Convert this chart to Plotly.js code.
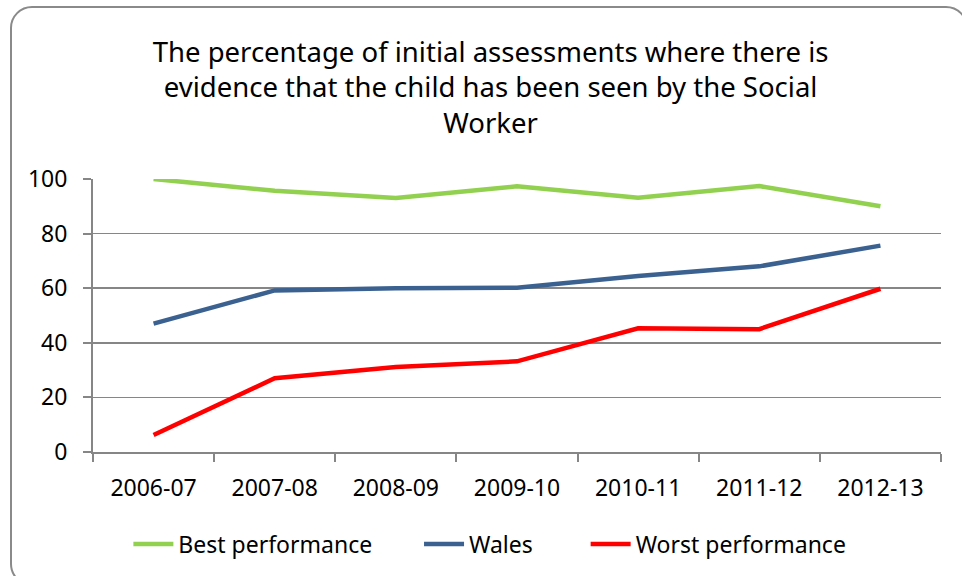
<!DOCTYPE html>
<html>
<head>
<meta charset="utf-8">
<script src="https://cdn.plot.ly/plotly-3.0.1.min.js"></script>
<style>
  html, body { margin: 0; padding: 0; background: #fff; }
  #wrap { position: relative; width: 962px; height: 576px; overflow: hidden; }
  #chart { position: absolute; left: 0; top: 0; width: 962px; height: 576px; }
  #frame { position: absolute; left: 10px; top: 6px; width: 958px; height: 580px;
           border: 2px solid #8a8a8a; border-radius: 22px; pointer-events: none; box-sizing: border-box; }
</style>
</head>
<body>
<div id="wrap">
  <div id="chart"></div>
  <div id="frame"></div>
</div>
<script>
const categories = ["2006-07", "2007-08", "2008-09", "2009-10", "2010-11", "2011-12", "2012-13"];
const bestPerformance = [100, 95.7, 93.0, 97.3, 93.1, 97.4, 90.0];
const wales = [47.0, 59.2, 60.0, 60.2, 64.5, 68.0, 75.6];
const worstPerformance = [6.2, 27.0, 31.1, 33.2, 45.3, 45.0, 59.8];
const seriesNames = ["Best performance", "Wales", "Worst performance"];

const font = "Noto Sans, Open Sans, sans-serif";
const pad = "\u00a0".repeat(7);

const traces = [
  { x: categories, y: bestPerformance, name: seriesNames[0] + pad, type: "scatter", mode: "lines",
    line: { color: "#92d050", width: 4.5 } },
  { x: categories, y: wales, name: seriesNames[1] + pad + "\u00a0", type: "scatter", mode: "lines",
    line: { color: "#3a6190", width: 4.5 } },
  { x: categories, y: worstPerformance, name: seriesNames[2], type: "scatter", mode: "lines",
    line: { color: "#ff0000", width: 4.5 } }
];

const layout = {
  width: 962, height: 576,
  paper_bgcolor: "rgba(0,0,0,0)", plot_bgcolor: "#fff",
  margin: { l: 93, r: 21, t: 179, b: 123 },
  font: { family: font, color: "#000", size: 23 },
  title: {
    text: "The percentage of initial assessments where there is<br>evidence that the child has been seen by the Social<br>Worker",
    font: { family: font, size: 27.5, color: "#000" },
    x: 0.51, xanchor: "center", y: 0.893, yanchor: "middle"
  },
  showlegend: true,
  legend: {
    orientation: "h", x: 0.468, xanchor: "center", y: -0.332, yanchor: "middle",
    font: { family: font, size: 23 }, itemwidth: 40
  },
  xaxis: {
    type: "category", showgrid: false, zeroline: false,
    showline: true, linecolor: "#868686", linewidth: 2,
    ticks: "outside", tickson: "boundaries", ticklen: 8, tickcolor: "#868686", tickwidth: 2,
    tickfont: { family: font, size: 23 }, ticklabelstandoff: 14, range: [-0.5, 6.5]
  },
  yaxis: {
    range: [0, 100], dtick: 20, showgrid: true, gridcolor: "#868686", gridwidth: 1.5,
    zeroline: false, showline: true, linecolor: "#868686", linewidth: 2,
    ticks: "outside", ticklen: 8, tickcolor: "#868686", tickwidth: 2,
    tickfont: { family: font, size: 23 }, ticklabelstandoff: 11
  }
};

Plotly.newPlot("chart", traces, layout, { displayModeBar: false, staticPlot: true });
</script>
</body>
</html>
